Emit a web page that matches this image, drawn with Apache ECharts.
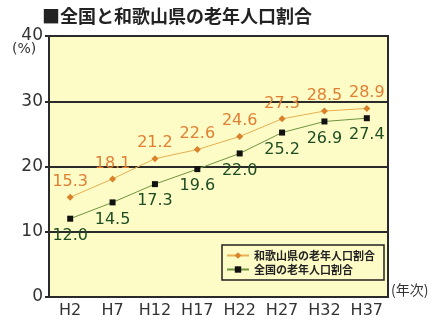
<!DOCTYPE html>
<html><head><meta charset="utf-8">
<script src="https://cdn.jsdelivr.net/npm/echarts@6/dist/echarts.min.js"></script>
<style>html,body{margin:0;padding:0;background:#fff}#c{width:437px;height:324px}</style>
</head><body><div id="c"></div>
<script>
const categories = ['H2','H7','H12','H17','H22','H27','H32','H37'];
const wakayama = [15.3,18.1,21.2,22.6,24.6,27.3,28.5,28.9];
const national = [12.0,14.5,17.3,19.6,22.0,25.2,26.9,27.4];
const yTicks = [0,10,20,30,40];
const titleText = '■全国と和歌山県の老年人口割合';
const nameW = '和歌山県の老年人口割合';
const nameN = '全国の老年人口割合';

const chart = echarts.init(document.getElementById('c'), null, {renderer:'canvas'});
const font = '"DejaVu Sans", "Liberation Sans", sans-serif';
chart.setOption({
  backgroundColor:'#fff',
  animation:false,
  title:{text:titleText,left:37,top:2,textStyle:{fontSize:18,fontWeight:'bold',color:'#222',fontFamily:'"Noto Sans CJK JP"'}},
  grid:{left:49,right:49,top:36,bottom:27,show:true,backgroundColor:'#fdfbc6',borderColor:'#2a2a2a',borderWidth:2},
  legend:{
    right:53,bottom:44,orient:'vertical',itemGap:3,itemWidth:22,itemHeight:8,
    backgroundColor:'#fdfbc6',borderColor:'#222',borderWidth:1.5,padding:[5,9,5,4],
    textStyle:{fontSize:11,fontWeight:'bold',color:'#222',fontFamily:'"Noto Sans CJK JP"'},
    data:[nameW,nameN]
  },
  xAxis:{type:'category',data:categories,boundaryGap:true,
    axisLine:{lineStyle:{color:'#2a2a2a',width:2}},
    axisTick:{inside:true,length:3,lineStyle:{color:'#333'}},
    axisLabel:{color:'#333',fontSize:16,fontFamily:font,margin:6},
    name:'(年次)',nameLocation:'end',nameGap:3,
    nameTextStyle:{color:'#333',fontSize:14,fontFamily:'"Noto Sans CJK JP"',verticalAlign:'bottom',padding:[0,0,0,0]}
  },
  yAxis:{type:'value',min:0,max:40,interval:10,
    axisLine:{show:true,lineStyle:{color:'#2a2a2a',width:2}},
    axisTick:{show:true,length:4,lineStyle:{color:'#2a2a2a',width:2}},
    splitLine:{lineStyle:{color:'#2a2a2a',width:2}},
    axisLabel:{color:'#333',fontSize:17,fontFamily:font,margin:6,
      formatter:v=>yTicks.includes(v)?String(v):''},
  },
  graphic:[{type:'text',left:12,top:42,style:{text:'(%)',fontSize:14,fill:'#333',fontFamily:font}}],
  series:[
    {name:nameW,type:'line',data:wakayama,symbol:'diamond',symbolSize:7,
      itemStyle:{color:'#d9822b'},lineStyle:{color:'#e8b050',width:1},
      label:{show:true,position:'top',distance:4,color:'#e07f32',fontSize:16,fontFamily:font,formatter:p=>p.value.toFixed(1)}},
    {name:nameN,type:'line',data:national,symbol:'rect',symbolSize:6,
      itemStyle:{color:'#111'},lineStyle:{color:'#6f9440',width:1},
      label:{show:true,position:'bottom',distance:6,color:'#1e4d24',fontSize:16,fontFamily:font,formatter:p=>p.value.toFixed(1)}}
  ]
});
</script></body></html>
